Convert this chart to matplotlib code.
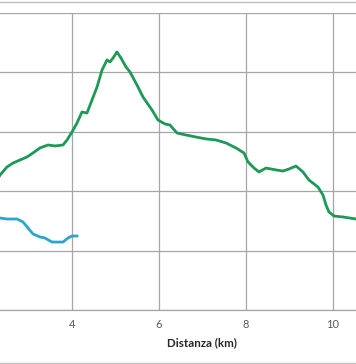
import matplotlib
matplotlib.use("Agg")
import matplotlib.pyplot as plt
from matplotlib.lines import Line2D

# distanza (km) / quota
green_km = [2.30, 2.345, 2.506, 2.644, 2.805, 2.966, 3.103, 3.264, 3.448, 3.609, 3.793,
            3.885, 4.0, 4.115, 4.230, 4.345, 4.460, 4.575, 4.690, 4.805, 4.874,
            4.943, 5.034, 5.126, 5.241, 5.333, 5.494, 5.632, 5.839, 5.977, 6.138,
            6.253, 6.414, 6.621, 6.851, 7.080, 7.310, 7.540, 7.770, 7.954, 8.046,
            8.184, 8.299, 8.460, 8.690, 8.851, 8.989, 9.149, 9.310, 9.448, 9.655,
            9.770, 9.839, 9.908, 10.023, 10.230, 10.529, 10.56]
green_m = [110.5, 113.6, 120.4, 123.7, 126.3, 128.8, 132.2, 136.4, 138.9, 138.1, 138.9,
           143.1, 149.8, 157.4, 166.7, 165.8, 176.8, 187.7, 202.0, 210.5, 208.8,
           212.1, 217.2, 212.1, 204.6, 200.4, 189.4, 179.3, 168.4, 159.9, 156.6,
           155.7, 149.0, 147.3, 145.6, 144.0, 143.1, 140.6, 136.4, 132.2, 124.6,
           119.5, 116.2, 119.5, 117.9, 117.0, 118.7, 121.2, 116.2, 109.4, 103.5,
           96.8, 88.4, 82.5, 79.1, 78.3, 76.6, 76.4]

blue_km = [2.30, 2.345, 2.506, 2.736, 2.874, 2.989, 3.103, 3.264, 3.379, 3.540, 3.793,
           3.908, 4.0, 4.115]
blue_m = [77.6, 77.4, 76.6, 76.6, 74.1, 69.0, 64.0, 61.5, 60.6, 57.2, 57.2,
          60.6, 62.3, 62.3]

xticks = [4, 6, 8, 10]
yticks = [0, 50, 100, 150, 200, 250]

W, H = 356, 364
fig = plt.figure(figsize=(W / 100, H / 100), dpi=100)
ax = fig.add_axes([0, 1 - 310 / H, 1, (310 - 13) / H])

ax.plot(green_km, green_m, color="#1c9a55", lw=2.0, solid_joinstyle="round", zorder=3)
ax.plot(blue_km, blue_m, color="#2ba6c9", lw=2.0, solid_joinstyle="round", zorder=3)

ax.set_xlim(2.345, 10.529)
ax.set_ylim(0, 250)
ax.set_xticks(xticks)
ax.set_yticks(yticks)
ax.set_yticklabels([])
ax.grid(True, color="#a6a6a6", lw=0.9)
ax.set_axisbelow(True)
for s in ["left", "right", "top"]:
    ax.spines[s].set_visible(False)
ax.spines["bottom"].set_color("#a6a6a6")
ax.spines["bottom"].set_linewidth(0.9)
ax.tick_params(axis="both", length=0)
ax.tick_params(axis="x", pad=6.5, labelsize=8, labelcolor="#595959")
for lbl in ax.get_xticklabels():
    lbl.set_family("Lato")

fig.text(202 / W, 1 - 343 / H, "Distanza (km)", ha="center", va="center",
         fontsize=8.3, fontweight="bold", family="Lato", color="#262626")

# bordo area grafico
fig.add_artist(Line2D([0, 1], [1 - 1.5 / H, 1 - 1.5 / H], color="#bfbfbf", lw=1))
fig.add_artist(Line2D([0, 1], [1 - 362.5 / H, 1 - 362.5 / H], color="#bfbfbf", lw=1))

fig.savefig("out.png", dpi=100)
